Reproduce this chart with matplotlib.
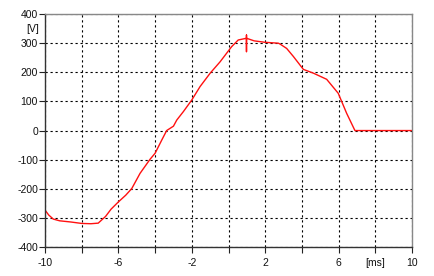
import matplotlib
matplotlib.use("Agg")
import matplotlib.pyplot as plt

# Trace data (time in ms, voltage in V)
t_ms = [-10.0, -9.8, -9.55, -9.2, -8.6, -8.0, -7.5, -7.1, -6.91, -6.7, -6.4, -6.0,
        -5.6, -5.27, -4.82, -4.28, -4.0, -3.64, -3.37, -3.0, -2.82, -2.46, -2.0,
        -1.55, -1.0, -0.46, 0.17, 0.53, 0.98, 0.98, 0.98, 0.98, 1.4, 2.0, 2.72,
        2.81, 3.17, 3.54, 4.08, 4.63, 5.35, 5.98, 6.44, 6.89, 7.2, 10.0]
volts = [-273, -290, -304, -310, -314, -319, -320, -318, -307, -295, -270, -245,
         -222, -199, -147, -99, -78, -33, 0, 15, 36, 65, 105,
         151, 197, 236, 288, 311, 317, 328, 271, 317, 308, 303, 300,
         297, 282, 254, 210, 197, 176, 128, 59, 0, 0, 0]

x_ticks = [-10, -8, -6, -4, -2, 0, 2, 4, 6, 8, 10]
x_labels = ["-10", "", "-6", "", "-2", "", "2", "", "6", "[ms]", "10"]
y_ticks = [-400, -300, -200, -100, 0, 100, 200, 300, 400]
y_labels = ["-400", "-300", "-200", "-100", "0", "100", "200", "300", "400"]

plt.rcParams['font.family'] = ['Liberation Sans', 'DejaVu Sans']

fig = plt.figure(figsize=(4.34, 2.76), dpi=100)
ax = fig.add_axes([0.1037, 0.105, 0.8456, 0.844])

ax.plot(t_ms, volts, color='#ff1010', lw=1.0)

ax.set_xlim(-10, 10)
ax.set_ylim(-400, 400)
ax.set_xticks(x_ticks)
ax.set_xticklabels(x_labels)
ax.set_yticks(y_ticks)
ax.set_yticklabels(y_labels)
ax.tick_params(axis='both', labelsize=7.5, length=4, width=0.8, color='#222222',
               labelcolor='#111111')
ax.tick_params(axis='x', pad=4)
ax.tick_params(axis='y', pad=1)
ax.text(-10.3, 350, "[V]", ha='right', va='center', fontsize=7.5, color='#111111')

ax.grid(True, color='black', linestyle=(0, (2, 2.5)), linewidth=0.8)
for side in ['top', 'right']:
    ax.spines[side].set_color('#888888')
    ax.spines[side].set_linewidth(1.0)
for side in ['left', 'bottom']:
    ax.spines[side].set_color('#333333')
    ax.spines[side].set_linewidth(1.0)

fig.savefig("out.png", dpi=100)
